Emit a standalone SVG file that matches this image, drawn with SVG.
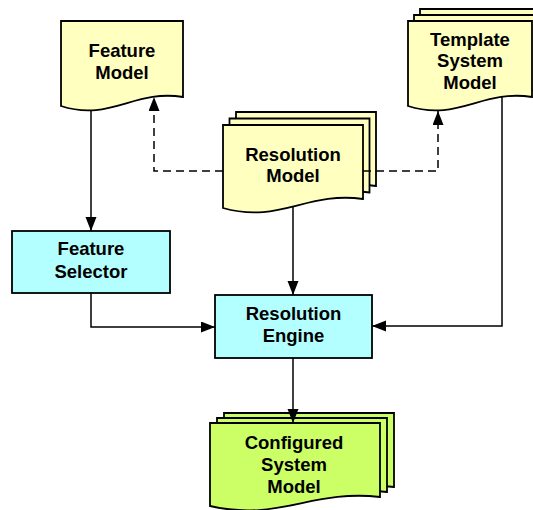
<svg xmlns="http://www.w3.org/2000/svg" width="533" height="510" viewBox="0 0 533 510">
<style>
.doc{fill:#ffffc0;stroke:#000;stroke-width:1.8}
.gdoc{fill:#ccff66;stroke:#000;stroke-width:1.8}
.box{fill:#b3ffff;stroke:#000;stroke-width:1.8}
.lbl{font-family:"Liberation Sans",Arial,Helvetica,sans-serif;font-weight:bold;font-size:18.5px;text-anchor:middle;fill:#000}
.con{fill:none;stroke:#000;stroke-width:1.5}
.dash{stroke-dasharray:8 5}
</style>
<defs>
<marker id="arr" markerUnits="userSpaceOnUse" markerWidth="15" markerHeight="12" refX="14" refY="5.5" orient="auto">
<path d="M0,0 L14,5.5 L0,11 Z" fill="#000"/>
</marker>
<path id="fmShape" d="M61,21 H183 V97 C134.2,89 109.8,122 61,106 Z"/>
<path id="tsShape" d="M408,21 H532 V97 C482.4,89 457.6,122 408,106 Z"/>
<path id="rmShape" d="M223,125 H363 V199 C307,191 279,224 223,208 Z"/>
<path id="csShape" d="M210,423 H380 V497 C312,489 278,522 210,506 Z"/>
</defs>

<g id="feature-model">
<use href="#fmShape" class="doc"/>
<text class="lbl" x="122" y="57">Feature</text>
<text class="lbl" x="122" y="79">Model</text>
</g>

<g id="template-system-model">
<use href="#tsShape" class="doc" transform="translate(12,-12)"/>
<use href="#tsShape" class="doc" transform="translate(6,-6)"/>
<use href="#tsShape" class="doc"/>
<text class="lbl" x="470" y="46">Template</text>
<text class="lbl" x="470" y="67">System</text>
<text class="lbl" x="470" y="89">Model</text>
</g>

<g id="resolution-model">
<use href="#rmShape" class="doc" transform="translate(13,-13)"/>
<use href="#rmShape" class="doc" transform="translate(6.5,-6.5)"/>
<use href="#rmShape" class="doc"/>
<text class="lbl" x="293" y="161">Resolution</text>
<text class="lbl" x="293" y="182">Model</text>
</g>

<g id="feature-selector">
<rect class="box" x="12" y="231" width="158" height="62"/>
<text class="lbl" x="91" y="255">Feature</text>
<text class="lbl" x="91" y="278">Selector</text>
</g>

<g id="resolution-engine">
<rect class="box" x="215" y="295" width="157" height="63"/>
<text class="lbl" x="293.5" y="320">Resolution</text>
<text class="lbl" x="293.5" y="342">Engine</text>
</g>

<g id="configured-system-model">
<use href="#csShape" class="gdoc" transform="translate(14,-10)"/>
<use href="#csShape" class="gdoc" transform="translate(7,-5)"/>
<use href="#csShape" class="gdoc"/>
<text class="lbl" x="294" y="449">Configured</text>
<text class="lbl" x="294" y="471">System</text>
<text class="lbl" x="294" y="493">Model</text>
</g>

<g id="connectors">
<path class="con" d="M91,110 V231" marker-end="url(#arr)"/>
<path class="con" d="M91,293 V327 H215" marker-end="url(#arr)"/>
<path class="con" d="M502,97 V326 H372" marker-end="url(#arr)"/>
<path class="con" d="M293,206.5 V295" marker-end="url(#arr)"/>
<path class="con" d="M293,358 V423" marker-end="url(#arr)"/>
<path class="con dash" d="M223,171 H154 V97" marker-end="url(#arr)"/>
<path class="con dash" d="M363,171 H438 V111" marker-end="url(#arr)"/>
</g>
</svg>
